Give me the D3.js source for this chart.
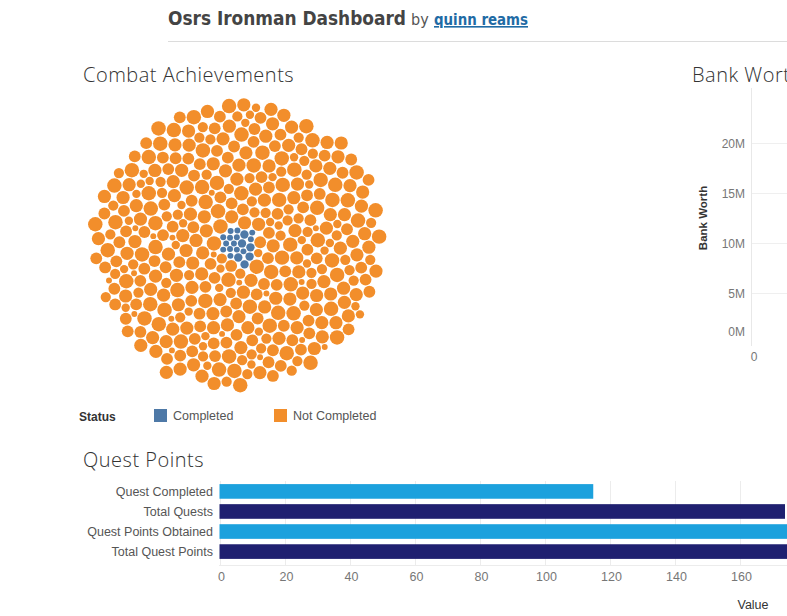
<!DOCTYPE html>
<html><head><meta charset="utf-8">
<script src="https://cdn.jsdelivr.net/npm/d3@7"></script>
<style>
html,body{margin:0;padding:0;background:#fff;overflow:hidden;}
svg{display:block;}
</style></head>
<body>
<svg id="c" width="787" height="616"></svg>
<script>
// ---- data ----
const tiers = ["Easy","Medium","Hard","Elite","Master","Grandmaster"];
const tierPoints = [1,2,3,4,5,6];
const completedCounts = [14,6,0,0,0,0];
const notCompletedCounts = [18,34,56,100,115,72];
const statusLabels = ["Completed","Not Completed"];
const statusColors = ["#4E79A7","#F28E2B"];

const questCategories = ["Quest Completed","Total Quests","Quest Points Obtained","Total Quest Points"];
const questValues = [115,174,200,300];
const questColors = ["#1CA1DD","#1F2070","#1CA1DD","#1F2070"];
const questTicks = [0,20,40,60,80,100,120,140,160];

const bankTicks = [0,5e6,10e6,15e6,20e6];
const bankMax = 25.5e6;
const bankXTicks = [0];

// ---- helpers ----
function interleave(counts, status){
  const total = d3.sum(counts), placed = counts.map(()=>0), out = [];
  for(let k=0;k<total;k++){
    let best=-1, bestV=-Infinity;
    counts.forEach((c,t)=>{ if(placed[t]<c){ const v = c*(k+1)/total - placed[t]; if(v>bestV){bestV=v;best=t;} } });
    placed[best]++;
    out.push({tier:tiers[best], points:tierPoints[best], status});
  }
  return out;
}

const svg = d3.select("#c");
const font = "'Liberation Sans', Arial, sans-serif";

// ---- header ----
svg.append("text").attr("x",168).attr("y",25)
  .attr("font-family","'DejaVu Sans Condensed','DejaVu Sans',sans-serif").attr("font-weight","bold")
  .attr("font-size",19).attr("fill","#444").attr("textLength",238).attr("lengthAdjust","spacingAndGlyphs")
  .text("Osrs Ironman Dashboard");
svg.append("text").attr("x",411).attr("y",25)
  .attr("font-family","'DejaVu Sans Condensed','DejaVu Sans',sans-serif")
  .attr("font-size",16).attr("fill","#555").text("by");
svg.append("text").attr("x",434).attr("y",25)
  .attr("font-family","'DejaVu Sans Condensed','DejaVu Sans',sans-serif").attr("font-weight","bold")
  .attr("font-size",16).attr("fill","#1F6BA5").attr("text-decoration","underline")
  .attr("textLength",94).attr("lengthAdjust","spacingAndGlyphs").text("quinn reams");
svg.append("line").attr("x1",168).attr("x2",787).attr("y1",41.5).attr("y2",41.5).attr("stroke","#dcdcdc");

// ---- section titles ----
const titleFont = "'Open Sans', 'Noto Sans', sans-serif";
function title(x,y,t){
  return svg.append("text").attr("x",x).attr("y",y).attr("font-family",titleFont)
    .attr("font-weight",300).attr("font-size",20).attr("letter-spacing",0.5).attr("fill","#333").text(t);
}
title(83,82,"Combat Achievements");
title(692,82,"Bank Worth");
title(83,467,"Quest Points");

// ---- packed bubbles ----
const leaves = interleave(completedCounts, statusLabels[0]).concat(interleave(notCompletedCounts, statusLabels[1]));
const root = d3.hierarchy({children:leaves}).sum(d=>d.points||0);
const diam = 306;
d3.pack().size([diam,diam]).padding(1)(root);
const color = d3.scaleOrdinal().domain(statusLabels).range(statusColors);
const bub = svg.append("g").attr("transform",`translate(${238.5-diam/2},${246-diam/2})`);
bub.selectAll("circle").data(root.leaves()).join("circle")
  .attr("cx",d=>d.x).attr("cy",d=>d.y).attr("r",d=>d.r)
  .attr("fill",d=>color(d.data.status));

// ---- legend ----
svg.append("text").attr("x",79).attr("y",421).attr("font-family",font).attr("font-weight","bold")
  .attr("font-size",12).attr("fill","#333").text("Status");
const legX = [154,274];
statusLabels.forEach((s,i)=>{
  svg.append("rect").attr("x",legX[i]).attr("y",409).attr("width",13).attr("height",13).attr("fill",color(s));
  svg.append("text").attr("x",legX[i]+19).attr("y",420).attr("font-family",font)
    .attr("font-size",12.5).attr("fill","#555").text(s);
});

// ---- bank worth axis ----
const by = d3.scaleLinear().domain([0,bankMax]).range([343,88]);
const bx = d3.scaleLinear().domain([0,1]).range([754,1200]);
const bank = svg.append("g");
bank.append("line").attr("x1",751.5).attr("x2",751.5).attr("y1",88).attr("y2",346).attr("stroke","#e8e8e8");
bank.selectAll(".bg").data(bankTicks.filter(d=>d>0)).join("line")
  .attr("x1",752).attr("x2",787).attr("y1",d=>Math.round(by(d))+0.5).attr("y2",d=>Math.round(by(d))+0.5).attr("stroke","#efefef");
bank.selectAll(".bt").data(bankTicks).join("text")
  .attr("x",745).attr("y",d=>Math.min(by(d),331)+4.5).attr("text-anchor","end")
  .attr("font-family",font).attr("font-size",12).attr("fill","#777")
  .text(d=>d3.format(".0f")(d/1e6)+"M");
bank.selectAll(".bxt").data(bankXTicks).join("text")
  .attr("x",d=>bx(d)).attr("y",361).attr("text-anchor","middle")
  .attr("font-family",font).attr("font-size",12).attr("fill","#777").text(d=>d);
bank.append("text").attr("transform","translate(707,218) rotate(-90)").attr("text-anchor","middle")
  .attr("font-family",font).attr("font-weight","bold").attr("font-size",11.5).attr("fill","#333").text("Bank Worth");

// ---- quest bar chart ----
const qx = d3.scaleLinear().domain([0,300]).range([219.5,219.5+3.25*300]);
const qy = d3.scaleBand().domain(questCategories).range([481.5,561.5]).paddingInner(0.27).paddingOuter(0.13);
const q = svg.append("g");
q.selectAll(".grid").data(questTicks).join("line")
  .attr("x1",d=>Math.round(qx(d))+0.5).attr("x2",d=>Math.round(qx(d))+0.5)
  .attr("y1",481).attr("y2",566).attr("stroke","#ececec");
q.append("line").attr("x1",219).attr("x2",787).attr("y1",565.5).attr("y2",565.5).attr("stroke","#ececec");
q.selectAll("rect").data(questCategories).join("rect")
  .attr("x",qx(0)).attr("y",d=>qy(d)).attr("height",qy.bandwidth())
  .attr("width",(d,i)=>qx(questValues[i])-qx(0)).attr("fill",(d,i)=>questColors[i]);
q.selectAll(".cat").data(questCategories).join("text")
  .attr("x",213).attr("y",d=>qy(d)+qy.bandwidth()/2+4.5).attr("text-anchor","end")
  .attr("font-family",font).attr("font-size",12.5).attr("fill","#555").text(d=>d);
q.selectAll(".tick").data(questTicks).join("text")
  .attr("x",d=>qx(d)+2).attr("y",581).attr("text-anchor","middle")
  .attr("font-family",font).attr("font-size",12.5).attr("fill","#777").text(d=>d);
q.append("text").attr("x",753).attr("y",609).attr("text-anchor","middle")
  .attr("font-family",font).attr("font-size",12.5).attr("fill","#333").text("Value");
</script>
</body></html>
